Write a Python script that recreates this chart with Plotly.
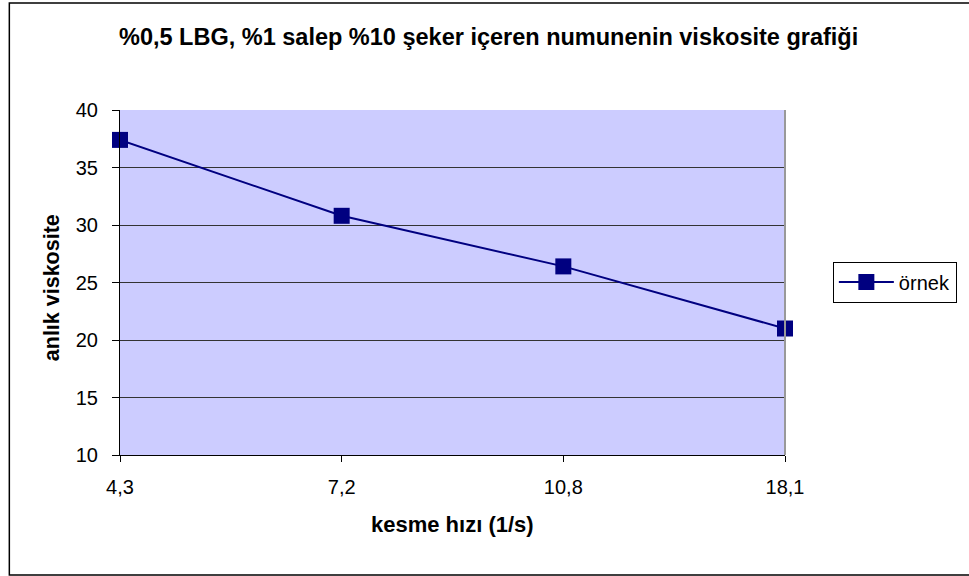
import plotly.graph_objects as go

categories = ["4,3", "7,2", "10,8", "18,1"]
viscosity = [37.4, 30.8, 26.4, 21.0]
y_ticks = [10, 15, 20, 25, 30, 35, 40]

W, H = 969, 576
L, R, T, B = 120, 787, 110, 455

def px(x):
    return (x - L) / (R - L)

def py(y):
    return (B - y) / (B - T)

fig = go.Figure()
fig.add_trace(go.Scatter(
    x=categories, y=viscosity, mode="lines+markers", name="örnek",
    line=dict(color="#000080", width=2),
    marker=dict(symbol="square", size=16, color="#000080"),
    cliponaxis=False,
))

font = "Liberation Sans, Arial, sans-serif"
fig.update_layout(
    width=W, height=H,
    margin=dict(l=L, r=W - R, t=T, b=H - B),
    paper_bgcolor="white", plot_bgcolor="#CCCCFF",
    font=dict(family=font, size=20, color="black"),
    showlegend=True,
    legend=dict(x=px(835), y=py(282), xanchor="left", yanchor="middle",
                bgcolor="white", bordercolor="black", borderwidth=1,
                font=dict(size=20), itemwidth=55, tracegroupgap=0),
    xaxis=dict(type="category", range=[0, 3], showgrid=False,
               showline=True, linecolor="black", linewidth=1,
               ticks="outside", ticklen=6, tickcolor="black",
               ticklabelstandoff=8, zeroline=False),
    yaxis=dict(range=[10, 40], tickvals=y_ticks, showgrid=True,
               gridcolor="#333333", gridwidth=1,
               showline=True, linecolor="black", linewidth=1,
               ticks="outside", ticklen=7, tickcolor="black",
               ticklabelstandoff=10, zeroline=False),
    annotations=[
        dict(text="<b>%0,5 LBG, %1 salep %10 şeker içeren numunenin viskosite grafiği</b>",
             x=px(490), y=py(37), xref="paper", yref="paper", showarrow=False,
             font=dict(size=23.5), xanchor="center", yanchor="middle"),
        dict(text="<b>kesme hızı (1/s)</b>", x=px(453), y=py(524), xref="paper", yref="paper",
             showarrow=False, font=dict(size=22), xanchor="center", yanchor="middle"),
        dict(text="<b>anlık viskosite</b>", x=px(52), y=py(288), xref="paper", yref="paper",
             showarrow=False, font=dict(size=21.5), textangle=-90,
             xanchor="center", yanchor="middle"),
    ],
    shapes=[
        dict(type="rect", xref="paper", yref="paper", x0=px(9), x1=px(975), y0=py(575), y1=py(3),
             line=dict(color="black", width=1.5), fillcolor="rgba(0,0,0,0)", layer="below"),
        dict(type="line", xref="paper", yref="paper", x0=1, x1=1, y0=0, y1=1,
             line=dict(color="#999999", width=2)),
    ],
)

fig.write_html("out.html", config={"displayModeBar": False},
               post_script="document.body.style.margin='0';")
